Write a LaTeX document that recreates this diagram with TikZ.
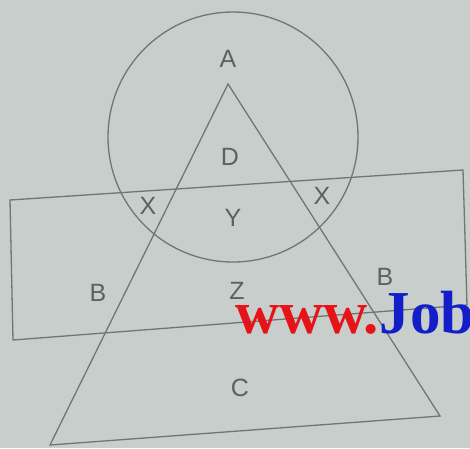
\documentclass[tikz,border=0pt]{standalone}
\usepackage{fontspec}
\setmainfont{Liberation Sans}
\newfontfamily\wmfont{Liberation Serif}
\usepackage{xcolor}
\definecolor{paper}{RGB}{200,206,203}
\definecolor{lineg}{RGB}{112,118,114}
\definecolor{textg}{RGB}{92,98,95}
\definecolor{wmred}{RGB}{230,20,25}
\definecolor{wmblue}{RGB}{20,30,200}

\begin{document}
\begin{tikzpicture}[
  x=1pt, y=-1pt,
  figline/.style={draw=lineg, line width=1.3pt},
  lbl/.style={text=textg, inner sep=0pt, font=\fontsize{25}{25}\selectfont},
  wm/.style={inner sep=0pt, anchor=base west, font=\wmfont\bfseries\fontsize{61}{61}\selectfont}
]
\fill[paper] (0,0) rectangle (470,448);
\clip (0,0) rectangle (470,448);
% corners of the three sets
\coordinate (apex) at (228,84);
\coordinate (tl) at (50,445);
\coordinate (tr) at (440,416);
\coordinate (rnw) at (10,200);
\coordinate (rne) at (463,170);
\coordinate (rse) at (467,305);
\coordinate (rsw) at (13,340);
\coordinate (ctr) at (233,137);
\draw[figline] (ctr) circle[radius=125];
\draw[figline] (apex) -- (tr) -- (tl) -- cycle;
\draw[figline] (rnw) -- (rne) -- (rse) -- (rsw) -- cycle;
% region labels
\node[lbl] (a) at (228,59) {A};
\node[lbl] (d) at (230,157) {D};
\node[lbl] (xl) at (148,206) {X};
\node[lbl] (y) at (233,218) {Y};
\node[lbl] (xr) at (322,196) {X};
\node[lbl] (bl) at (98,293) {B};
\node[lbl] (z) at (237,291) {Z};
\node[lbl] (br) at (385,277) {B};
\node[lbl] (c) at (240,388) {C};
% watermark
\node[wm, text=wmred] (www) at (235,333) {www.};
\node[wm, text=wmblue] (job) at (www.base east) {Job};
\end{tikzpicture}
\end{document}
